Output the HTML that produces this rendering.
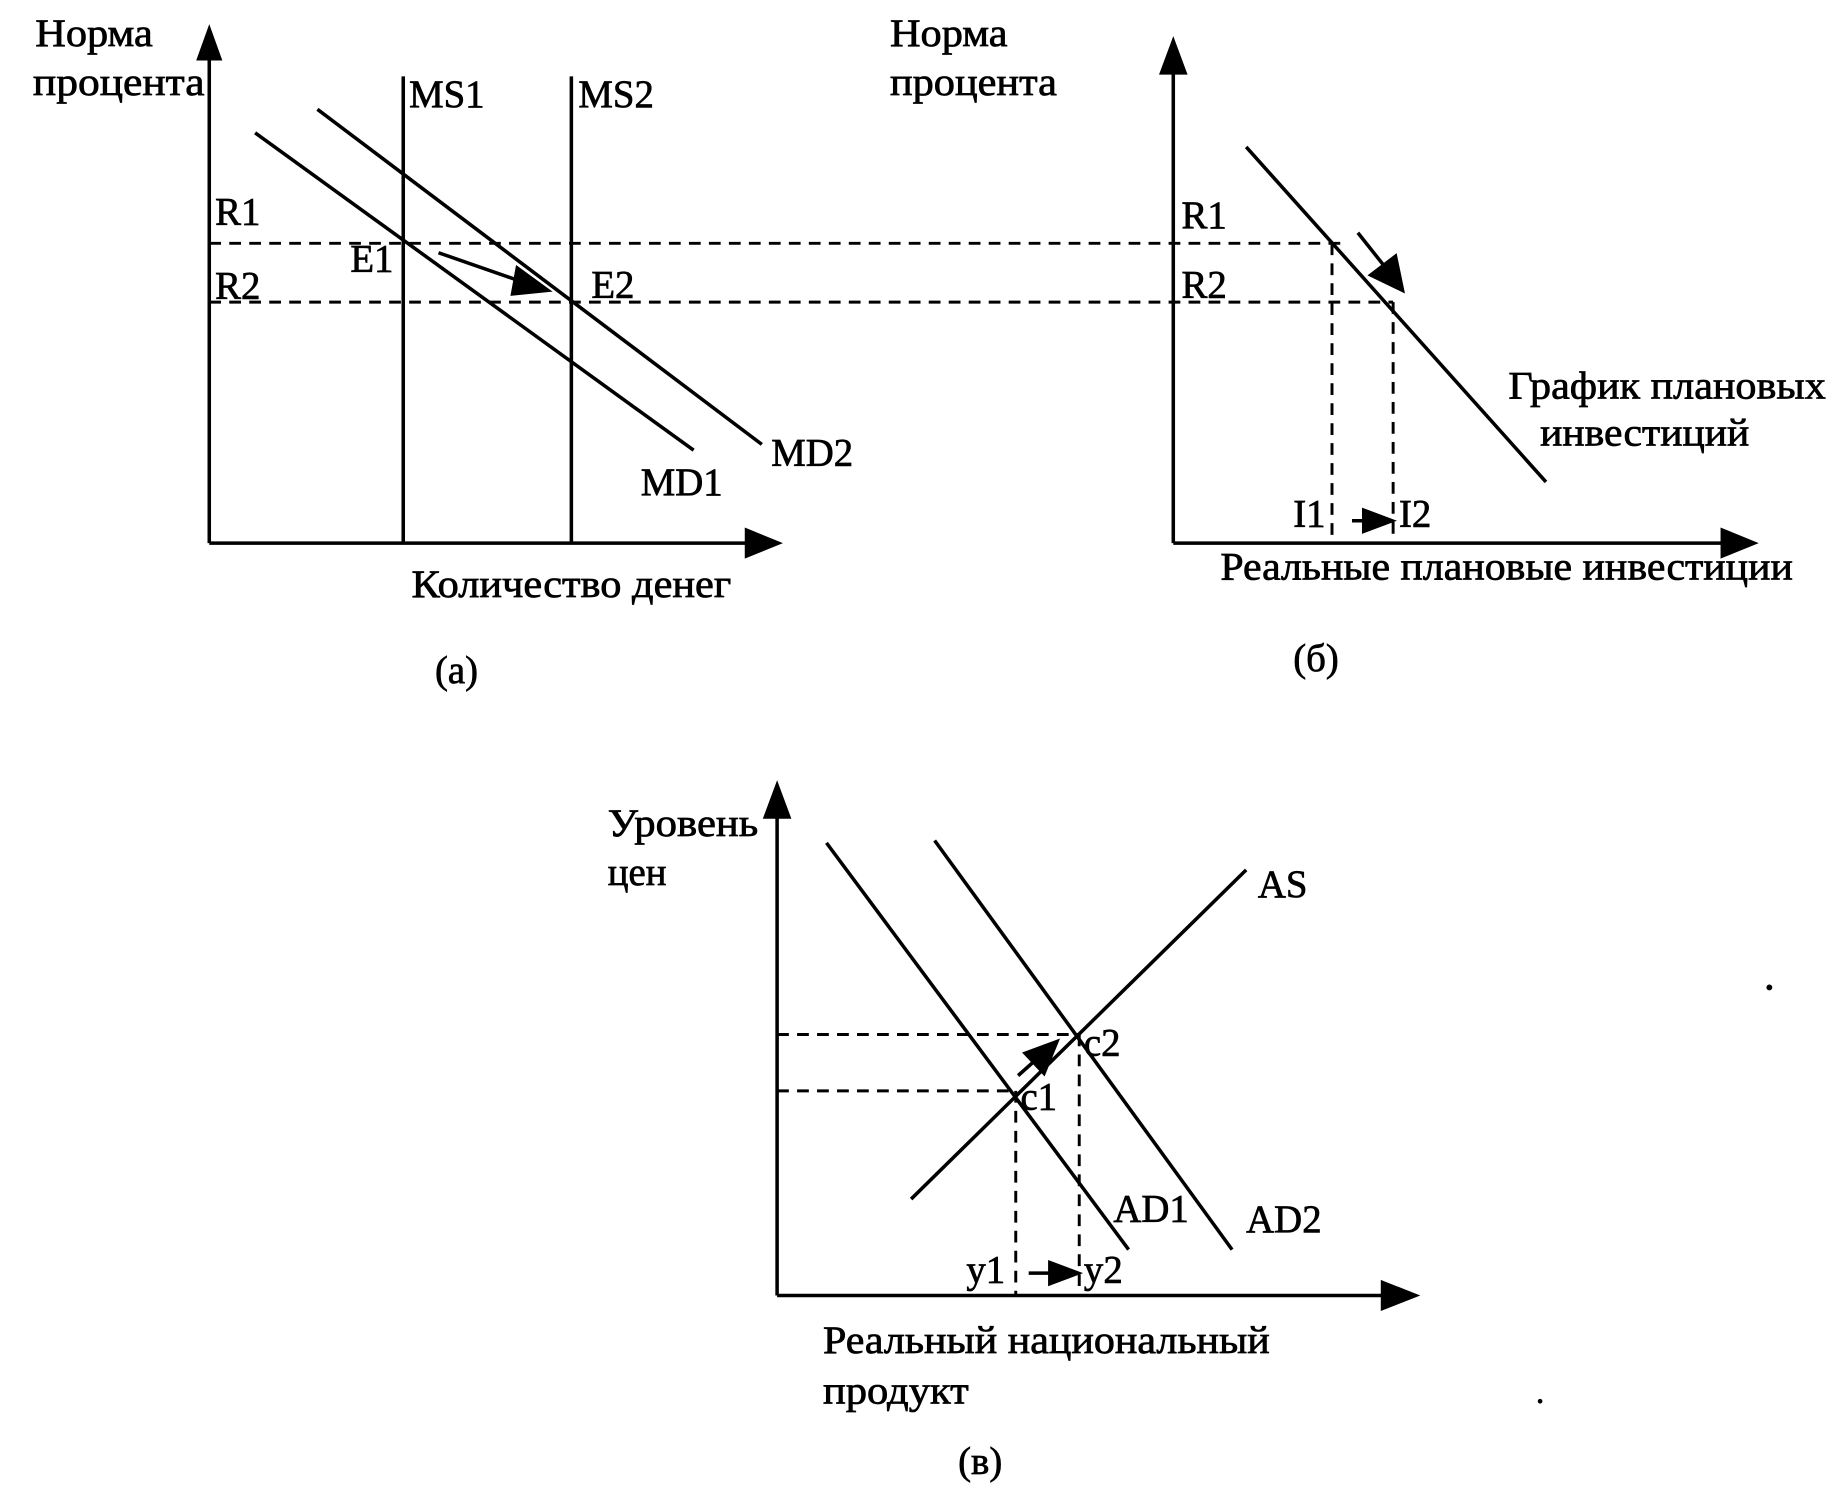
<!DOCTYPE html>
<html><head><meta charset="utf-8"><style>html,body{margin:0;padding:0;background:#fff}svg{display:block}text{font-family:"Liberation Serif",serif;font-size:33px;fill:#000;stroke:#000;stroke-width:0.6}</style></head><body>
<svg width="1834" height="1496" viewBox="0 0 1560 1272.6" preserveAspectRatio="none" xmlns="http://www.w3.org/2000/svg">
<g stroke="#000" stroke-width="3" fill="none">
<line x1="178" y1="462" x2="178" y2="45"/><path d="M169,50L178,25L187,50z" fill="#000"/>
<line x1="178" y1="462" x2="640" y2="462"/><path d="M635,451L662,462L635,473z" fill="#000"/>
<line x1="343" y1="65" x2="343" y2="462"/><line x1="486" y1="65" x2="486" y2="462"/>
<line x1="217" y1="113" x2="590" y2="383"/><line x1="270" y1="93" x2="648" y2="378"/>
<line x1="373" y1="215" x2="445" y2="240"/><path d="M440,228L466,247L436,250z" fill="#000"/>
<g stroke-dasharray="10,7" stroke-width="2.5">
<line x1="178" y1="207" x2="1140" y2="207"/><line x1="178" y1="257" x2="1185" y2="257"/>
<line x1="1133" y1="207" x2="1133" y2="462"/><line x1="1185" y1="257" x2="1185" y2="462"/>
</g>
<line x1="998" y1="462" x2="998" y2="55"/><path d="M988,62L998,35L1008,62z" fill="#000"/>
<line x1="998" y1="462" x2="1470" y2="462"/><path d="M1465,451L1492,462L1465,473z" fill="#000"/>
<line x1="1060" y1="125" x2="1315" y2="410"/>
<line x1="1155" y1="198" x2="1182" y2="232"/><path d="M1166,234L1193,247L1187,218z" fill="#000"/>
<line x1="1150" y1="443" x2="1170" y2="443"/><path d="M1160,434L1184,443L1160,452z" fill="#000"/>
<line x1="661" y1="1102" x2="661" y2="690"/><path d="M651,695L661,668L671,695z" fill="#000"/>
<line x1="661" y1="1102" x2="1180" y2="1102"/><path d="M1176,1091L1204,1102L1176,1113z" fill="#000"/>
<line x1="775" y1="1020" x2="1060" y2="740"/>
<line x1="703" y1="717" x2="960" y2="1063"/><line x1="795" y1="715" x2="1048" y2="1063"/>
<line x1="866" y1="915" x2="885" y2="898"/><path d="M872,896L899,886L888,913z" fill="#000"/>
<line x1="875" y1="1083" x2="895" y2="1083"/><path d="M893,1074L917,1083L893,1092z" fill="#000"/>
<g stroke-dasharray="10,7" stroke-width="2.5">
<line x1="661" y1="880" x2="918" y2="880"/><line x1="661" y1="928" x2="864" y2="928"/>
<line x1="864" y1="928" x2="864" y2="1102"/><line x1="918" y1="880" x2="918" y2="1102"/>
</g>
</g>
<circle cx="1505" cy="840" r="2.5"/><circle cx="1310" cy="1192" r="2"/>
<text x="30" y="39" textLength="100" lengthAdjust="spacingAndGlyphs">Норма</text><text x="28" y="81" textLength="146" lengthAdjust="spacingAndGlyphs">процента</text>
<text x="183" y="191">R1</text><text x="183" y="254">R2</text>
<text x="298" y="231">E1</text><text x="503" y="253">E2</text>
<text x="348" y="91">MS1</text><text x="492" y="91">MS2</text>
<text x="545" y="421">MD1</text><text x="656" y="396">MD2</text>
<text x="350" y="508" textLength="272" lengthAdjust="spacingAndGlyphs">Количество денег</text>
<text x="370" y="581">(а)</text>
<text x="757" y="39" textLength="100" lengthAdjust="spacingAndGlyphs">Норма</text><text x="757" y="81" textLength="142" lengthAdjust="spacingAndGlyphs">процента</text>
<text x="1005" y="194">R1</text><text x="1005" y="253">R2</text>
<text x="1283" y="339" textLength="270" lengthAdjust="spacingAndGlyphs">График плановых</text>
<text x="1310" y="379" textLength="178" lengthAdjust="spacingAndGlyphs">инвестиций</text>
<text x="1100" y="448">I1</text><text x="1190" y="448">I2</text>
<text x="1038" y="493" textLength="487" lengthAdjust="spacingAndGlyphs">Реальные плановые инвестиции</text>
<text x="1100" y="571">(б)</text>
<text x="517" y="711" textLength="128" lengthAdjust="spacingAndGlyphs">Уровень</text><text x="517" y="753">цен</text>
<text x="1070" y="763">AS</text><text x="922" y="898">c2</text><text x="868" y="944">c1</text>
<text x="947" y="1039">AD1</text><text x="1060" y="1048">AD2</text>
<text x="822" y="1091">y1</text><text x="922" y="1091">y2</text>
<text x="700" y="1151" textLength="380" lengthAdjust="spacingAndGlyphs">Реальный национальный</text>
<text x="700" y="1194" textLength="124" lengthAdjust="spacingAndGlyphs">продукт</text>
<text x="815" y="1254">(в)</text>
</svg>
</body></html>
